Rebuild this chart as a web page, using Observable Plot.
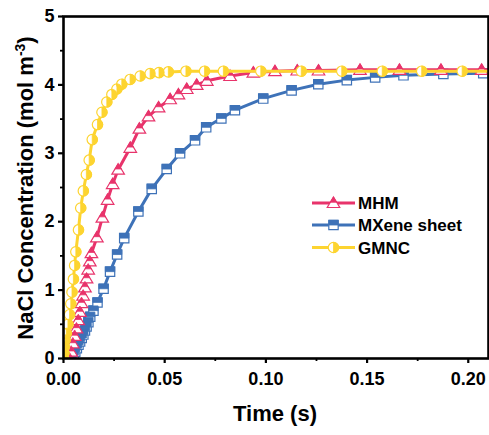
<!DOCTYPE html>
<html><head><meta charset="utf-8">
<script src="https://cdn.jsdelivr.net/npm/d3@7"></script>
<script src="https://cdn.jsdelivr.net/npm/@observablehq/plot@0.6"></script>
<style>
body{margin:0;background:#fff;}
svg{font-family:"Liberation Sans",Arial,sans-serif;}
</style>
</head><body><div id="chart"></div>
<script>
const seriesNames = ["MHM", "MXene sheet", "GMNC"];
const seriesColors = ["#E8336B", "#3E72B8", "#FDD430"];

const timeMHM = [0.003,0.0038,0.0046,0.0055,0.0064,0.0073,0.0081,0.0089,0.0097,0.0106,0.0114,0.0122,0.013,0.0138,0.0165,0.0192,0.0218,0.0243,0.027,0.033,0.0375,0.042,0.047,0.0527,0.0568,0.0609,0.0658,0.0708,0.0823,0.0938,0.1045,0.1155,0.126,0.1465,0.166,0.1865,0.2066,0.21];
const concMHM = [0,0.1,0.22,0.33,0.44,0.56,0.68,0.81,0.92,1.04,1.17,1.3,1.42,1.54,1.77,2.06,2.32,2.55,2.76,3.08,3.36,3.54,3.67,3.79,3.86,3.94,4.0,4.06,4.13,4.18,4.2,4.21,4.21,4.22,4.22,4.22,4.22,4.22];

const timeMX = [0.004,0.005,0.0058,0.0066,0.0074,0.0082,0.009,0.0098,0.0106,0.0114,0.0123,0.0132,0.0148,0.0168,0.0198,0.023,0.0265,0.030,0.037,0.0436,0.051,0.0576,0.065,0.0705,0.078,0.0847,0.0987,0.1127,0.1259,0.14,0.154,0.168,0.1877,0.2074,0.21];
const concMX = [0,0.05,0.1,0.15,0.2,0.25,0.3,0.35,0.41,0.47,0.53,0.61,0.7,0.82,1.02,1.27,1.52,1.76,2.15,2.48,2.77,3.0,3.19,3.38,3.51,3.63,3.8,3.92,4.01,4.07,4.11,4.14,4.16,4.17,4.17];

const timeGMNC = [0,0.0002,0.0004,0.0008,0.0014,0.0022,0.003,0.0036,0.0042,0.0049,0.0055,0.0061,0.0074,0.0085,0.0098,0.0113,0.0127,0.0142,0.0168,0.019,0.0214,0.0239,0.0264,0.0288,0.0329,0.0379,0.0428,0.0472,0.0518,0.0605,0.0697,0.079,0.0975,0.1175,0.1375,0.1575,0.177,0.197,0.21];
const concGMNC = [0,0.08,0.17,0.27,0.37,0.5,0.64,0.8,0.97,1.16,1.36,1.56,1.88,2.2,2.45,2.69,2.9,3.2,3.42,3.6,3.75,3.86,3.94,4.01,4.08,4.13,4.165,4.18,4.19,4.2,4.2,4.2,4.2,4.2,4.2,4.2,4.2,4.2,4.2];

const xMajor = [0, 0.05, 0.10, 0.15, 0.20];
const xMinor = [0.025, 0.075, 0.125, 0.175];
const yMajor = [0, 1, 2, 3, 4, 5];
const yMinor = [0.5, 1.5, 2.5, 3.5, 4.5];

const xLabel = "Time (s)";
const yLabelMain = "NaCl Concentration (mol m";
const yLabelSup = "-3";
const yLabelEnd = ")";

// custom half-filled symbols
const rOf = size => Math.sqrt(size / Math.PI);
const triFull = {draw(c, s){const r=rOf(s)*1.15; c.moveTo(0,-r); c.lineTo(r*1.05,r*0.75); c.lineTo(-r*1.05,r*0.75); c.closePath();}};
const triHalf = {draw(c, s){const r=rOf(s)*1.15; const m=(-r+r*0.75)/2; c.moveTo(0,-r); c.lineTo(r*0.525,m); c.lineTo(-r*0.525,m); c.closePath();}};
const sqFull = {draw(c, s){const h=rOf(s)*0.9; c.rect(-h,-h,2*h,2*h);}};
const sqHalf = {draw(c, s){const h=rOf(s)*0.9; c.rect(-h,-h,2*h,h);}};
const ciFull = {draw(c, s){const r=rOf(s); c.moveTo(r,0); c.arc(0,0,r,0,2*Math.PI);}};
const ciHalf = {draw(c, s){const r=rOf(s); c.moveTo(0,-r); c.arc(0,0,r,-Math.PI/2,Math.PI/2); c.closePath();}};
const fullSyms = [triFull, sqFull, ciFull];
const halfSyms = [triHalf, sqHalf, ciHalf];
const markR = 5.2;

const series = [
  timeMHM.map((t,i)=>({t, c: concMHM[i]})),
  timeMX.map((t,i)=>({t, c: concMX[i]})),
  timeGMNC.map((t,i)=>({t, c: concGMNC[i]}))
];

const order = [1, 0, 2];
const dataMarks = [];
for (const k of order) {
  const d = series[k];
  const col = seriesColors[k];
  dataMarks.push(Plot.line(d, {x:"t", y:"c", stroke: col, strokeWidth: 3, clip: true}));
  const dm = d.filter(p => p.t < 0.209);
  dataMarks.push(Plot.dot(dm, {x:"t", y:"c", symbol: fullSyms[k], r: markR, fill: "white", stroke: col, strokeWidth: 1.2, clip: true}));
  dataMarks.push(Plot.dot(dm, {x:"t", y:"c", symbol: halfSyms[k], r: markR, fill: col, stroke: col, strokeWidth: 0.8, clip: true}));
}

const plot = Plot.plot({
  width: 489, height: 435,
  marginLeft: 63, marginRight: 1, marginTop: 16, marginBottom: 77,
  style: {fontFamily: "'Liberation Sans', Arial, sans-serif", background: "white", color: "black"},
  x: {domain: [0, 0.21]},
  y: {domain: [0, 5]},
  marks: [
    Plot.axisX(xMinor, {tickSize: 3, text: null, strokeWidth: 1.8, label: null}),
    Plot.axisX(xMajor, {tickSize: 5, tickPadding: 9, tickFormat: d3.format(".2f"), fontSize: 18, fontWeight: "bold", strokeWidth: 2.2, label: null}),
    Plot.axisY(yMinor, {tickSize: 3, text: null, strokeWidth: 1.8, label: null}),
    Plot.axisY(yMajor, {tickSize: 5, tickPadding: 4, tickFormat: d3.format("d"), fontSize: 18, fontWeight: "bold", strokeWidth: 2.2, label: null}),
    ...dataMarks,
    Plot.frame({stroke: "black", strokeWidth: 2.6})
  ]
});
document.getElementById("chart").appendChild(plot);

const svg = d3.select(plot);
// axis titles
svg.append("text").attr("x", 275).attr("y", 421).attr("text-anchor", "middle")
  .attr("font-size", 22).attr("font-weight", "bold").attr("fill", "black").text(xLabel);
const yt = svg.append("text").attr("transform", "translate(33,188) rotate(-90)").attr("text-anchor", "middle")
  .attr("font-size", 22).attr("font-weight", "bold").attr("fill", "black");
yt.append("tspan").text(yLabelMain);
yt.append("tspan").attr("font-size", 14).attr("dy", -8).text(yLabelSup);
yt.append("tspan").attr("dy", 8).text(yLabelEnd);

// legend
const lg = svg.append("g").attr("text-anchor", "start");
const rowY = [203, 225, 247.5];
seriesNames.forEach((name, k) => {
  const g = lg.append("g").attr("transform", `translate(0,${rowY[k]})`);
  g.append("line").attr("x1", 312).attr("x2", 355).attr("stroke", seriesColors[k]).attr("stroke-width", 3);
  const size = Math.PI * markR * markR;
  g.append("path").attr("transform", "translate(333.5,0)").attr("d", d3.symbol(fullSyms[k], size)())
    .attr("fill", "white").attr("stroke", seriesColors[k]).attr("stroke-width", 1.2);
  g.append("path").attr("transform", "translate(333.5,0)").attr("d", d3.symbol(halfSyms[k], size)())
    .attr("fill", seriesColors[k]).attr("stroke", seriesColors[k]).attr("stroke-width", 0.8);
  g.append("text").attr("x", 358).attr("y", 0).attr("dy", "0.36em").attr("font-size", 17)
    .attr("text-anchor", "start").attr("font-weight", "bold").attr("fill", "black").text(name);
});
</script>
</body></html>
